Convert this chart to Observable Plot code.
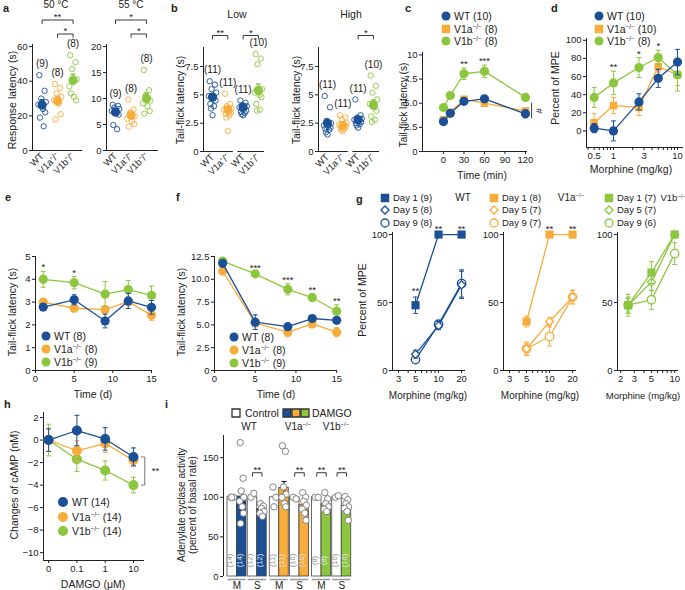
<!DOCTYPE html>
<html><head><meta charset="utf-8">
<script src="https://cdn.jsdelivr.net/npm/d3@7"></script>
<script src="https://cdn.jsdelivr.net/npm/@observablehq/plot@0.6"></script>
<style>
body{margin:0;background:#fff}
#root{position:relative;width:685px;height:590px;overflow:hidden;font-family:"Liberation Sans",Arial,sans-serif;color:#222;background:#fff}
.t{position:absolute;white-space:nowrap;line-height:1}
.t sup{font-size:0.6em;vertical-align:0;position:relative;top:-0.6em}
</style></head><body><div id="root"></div><script>
const FONT='"Liberation Sans", Arial, sans-serif';
const BLUE="#1b4f96", ORANGE="#f8ac3c", GREEN="#8cc63f", INK="#222";

// ---------- DATA ----------
// a
const aCats=["WT","V1a⁻/⁻","V1b⁻/⁻"];
const a50WT=[43.5,34.5,30,28,26.5,24,22,19,14];
const a50V1a=[38.5,36,33,31,29,27,21,18];
const a50V1b=[55,51,47,41,37,31,29,33];
const a50Mean=[26.3,28.6,40.6], a50Sem=[3.0,2.6,3.4];
const a55WT=[8.8,8.6,8.3,8.0,7.6,7.2,6.9,4.9,4.1];
const a55V1a=[9.8,7.9,7.3,6.6,6.1,5.6,5.1,4.6];
const a55V1b=[15.5,11.6,10.6,9.6,9.1,8.5,7.6,7.1];
const a55Mean=[7.4,6.8,10.0], a55Sem=[0.5,0.6,1.0];
const aN=["(9)","(8)","(8)"];
// b
const bCats=["WT","V1a⁻/⁻","WT","V1b⁻/⁻"];
const bLowWT1=[6.2,5.9,5.5,5.2,4.9,4.7,4.5,4.2,4.0,3.8,3.2];
const bLowV1a=[5.1,4.2,4.0,3.8,3.7,3.5,3.4,3.3,3.2,3.0,1.8];
const bLowWT2=[4.5,4.3,4.1,4.0,3.9,3.8,3.6,3.5,3.4,3.3,3.2];
const bLowV1b=[8.6,8.2,7.7,5.5,5.2,5.0,4.8,4.2,3.7,3.6];
const bLowMean=[4.8,3.7,3.9,5.4], bLowSem=[0.3,0.25,0.15,0.55];
const bHighWT1=[4.9,3.9,2.7,2.5,2.3,2.2,2.1,2.0,1.9,1.7,1.5];
const bHighV1a=[3.2,3.0,2.8,2.5,2.4,2.3,2.2,2.1,2.0,1.9,1.8];
const bHighWT2=[4.6,3.2,3.0,2.9,2.8,2.7,2.6,2.5,2.4,2.3,2.1];
const bHighV1b=[6.7,5.8,5.2,4.6,4.2,3.9,3.6,3.1,2.8,2.6];
const bHighMean=[2.5,2.3,2.8,4.1], bHighSem=[0.3,0.15,0.2,0.45];
const bN=["(11)","(11)","(11)","(10)"];
// c
const cTime=[0,10,30,60,120];
const cWT=[3.1,3.95,5.2,5.45,3.9], cWTe=[0.3,0.3,0.3,0.35,0.4];
const cV1a=[3.3,4.05,5.4,5.0,4.2], cV1ae=[0.25,0.25,0.3,0.3,0.3];
const cV1b=[4.55,5.8,8.05,8.3,5.6], cV1be=[0.2,0.25,0.6,0.65,0.35];
// d
const dDose=[0.5,1,2.5,5,10];
const dWT=[3,0,32,58,76], dWTe=[5,11,9,10,14];
const dV1a=[9,28,26,71,62], dV1ae=[10,9,9,6,12];
const dV1b=[37,53,70,81,62], dV1be=[11,13,11,8,18];
// e
const eDay=[1,5,9,12,15];
const eWT=[2.78,3.1,2.17,3.05,2.77], eWTe=[0.15,0.22,0.3,0.33,0.3];
const eV1a=[3.0,2.73,2.67,3.02,2.42], eV1ae=[0.1,0.15,0.15,0.15,0.22];
const eV1b=[4.0,3.85,3.35,3.55,3.3], eV1be=[0.35,0.27,0.55,0.4,0.4];
// f
const fDay=[1,5,9,12,15];
const fWT=[11.75,5.3,4.8,5.7,5.5], fWTe=[0.3,0.8,0.2,0.25,0.35];
const fV1a=[10.9,5.2,4.2,5.1,4.2], fV1ae=[0.2,0.3,0.5,0.4,0.5];
const fV1b=[12.0,10.6,8.9,8.0,6.5], fV1be=[0.2,0.2,0.6,0.4,0.7];
// g
const gDoseWT=[5,10,20], gDoseV1a=[5,10,20], gDoseV1b=[2.5,5,10];
const gWT1=[48,100,100], gWT1e=[6,0,0], gWT5=[12,33,63], gWT5e=[3,3,10], gWT9=[8,34,64], gWT9e=[2,3,10];
const gV1a1=[36,100,100], gV1a1e=[4,0,0], gV1a5=[16,36,54], gV1a5e=[4,3,5], gV1a9=[16,25,54], gV1a9e=[5,7,5];
const gV1b1=[48,72,100], gV1b1e=[8,8,0], gV1b5=[48,65,100], gV1b5e=[6,6,0], gV1b9=[48,52,86], gV1b9e=[5,7,8];
// h
const hCats=["0","0.1","1","10"];
const hWT=[0,0.85,0.1,-1.5], hWTe=[1.0,1.35,1.0,0.8];
const hV1a=[0,-0.95,-0.3,-1.8], hV1ae=[1.0,0.9,0.8,0.5];
const hV1b=[0,-1.7,-2.7,-4.0], hV1be=[1.4,1.1,0.85,0.7];
// i  (pair order: WT M, WT S, V1a M, V1a S, V1b M, V1b S)
const iRegions=["M","S","M","S","M","S"];
const iCtrlMean=[100,100,100,100,100,100];
const iDamgoMean=[101,85,112,90,91,89];
const iDamgoSem=[8,3,8,5,4,3];
const iCtrlPts=[[100,100,100],[100,105],[113,100,88],[100,98],[100,100],[100,102]];
const iDamgoPts=[[169,124,108,100,95,88,80,67],[92,89,86,82,80,76],[165,158,113,104,100,92,88],[106,100,95,90,85,80,71],[106,98,92,88,85,82],[101,97,92,88,86,82,71]];
const iCtrlN=["(14)","(12)","(11)","(10)","(8)","(10)"];
const iDamgoN=["(14)","(12)","(11)","(10)","(8)","(10)"];

// ---------- HELPERS ----------
const root=document.getElementById("root");
const SVGNS="http://www.w3.org/2000/svg";
const CAP={draw(ctx,size){const w=Math.sqrt(size)/2;ctx.moveTo(-w,0);ctx.lineTo(w,0);}};
const JIT=[-0.18,0.16,-0.06,0.24,-0.24,0.06,0.2,-0.14,0.1,-0.1,0.0];

function txt(html,x,y,o={}){
  const d=document.createElement("div");d.className="t";d.innerHTML=html;
  d.style.left=x+"px";d.style.top=y+"px";d.style.fontSize=(o.size||10.5)+"px";
  if(o.bold)d.style.fontWeight="bold";
  const tx=o.anchor==="start"?"0":o.anchor==="end"?"-100%":"-50%";
  d.style.transform=`translate(${tx},-50%)`+(o.rot?` rotate(${o.rot}deg)`:"");
  root.appendChild(d);
}
function marker(x,y,sym,fill,stroke,size=9){
  const s=document.createElementNS(SVGNS,"svg");
  s.setAttribute("width",16);s.setAttribute("height",16);
  s.style.cssText=`position:absolute;left:${x-8}px;top:${y-8}px;overflow:visible`;
  const p=document.createElementNS(SVGNS,"path");const r=size/2;let d;
  if(sym==="circle")d=`M${r},0A${r},${r} 0 1,1 ${-r},0A${r},${r} 0 1,1 ${r},0Z`;
  else if(sym==="square")d=`M${-r},${-r}H${r}V${r}H${-r}Z`;
  else d=`M0,${-r*1.15}L${r*1.15},0L0,${r*1.15}L${-r*1.15},0Z`;
  p.setAttribute("d",d);p.setAttribute("transform","translate(8,8)");
  p.setAttribute("fill",fill);p.setAttribute("stroke",stroke||"none");p.setAttribute("stroke-width",1.3);
  s.appendChild(p);root.appendChild(s);
}
function legend(x,y,dy,items,o={}){
  items.forEach((it,i)=>{const cy=y+i*dy;marker(x,cy,it.sym,it.fill,it.stroke,it.size||9);
    txt(it.label,x+(o.gap||8),cy,{anchor:"start",size:o.size||10.5});});
}
function mk(x0,x1,y0,y1,opts){
  const m={l:45,r:30,t:50,b:45};
  const p=Plot.plot({width:x1-x0+m.l+m.r,height:y1-y0+m.t+m.b,marginLeft:m.l,marginRight:m.r,marginTop:m.t,marginBottom:m.b,
    color:{type:"identity"},
    style:{fontFamily:FONT,fontSize:"9.5px",color:INK,background:"transparent",overflow:"visible"},...opts});
  p.style.position="absolute";p.style.left=(x0-m.l)+"px";p.style.top=(y0-m.t)+"px";p.style.maxWidth="none";
  root.appendChild(p);return p;
}
function errMarks(rows,color){
  const er=rows.filter(d=>d.e>0);
  return [Plot.ruleX(er,{x:"x",y1:"lo",y2:"hi",stroke:color,strokeWidth:1}),
    Plot.dot(er,{x:"x",y:"hi",symbol:CAP,r:2.8,stroke:color,fill:"none",strokeWidth:1}),
    Plot.dot(er,{x:"x",y:"lo",symbol:CAP,r:2.8,stroke:color,fill:"none",strokeWidth:1})];
}
function scatter(c){
  const pts=c.groups.flatMap((g,i)=>g.map((v,k)=>({x:i+JIT[k%JIT.length],y:v,c:c.colors[i]})));
  const mn=c.means.map((m,i)=>({x:i,y:m,e:c.sems[i],lo:m-c.sems[i],hi:m+c.sems[i],c:c.colors[i],n:c.ns[i],top:d3.max(c.groups[i])}));
  const ppu=(c.y1-c.y0)/(c.ydom[1]-c.ydom[0]);
  const br=[],st=[];
  c.sig.forEach((s,j)=>{const yb=c.ydom[1]+(c.base+(s.level-1)*14)/ppu,yd=yb-3.5/ppu;
    [[s.a,yd],[s.a,yb],[s.b,yb],[s.b,yd]].forEach(([x,y])=>br.push({x,y,j}));
    st.push({x:(s.a+s.b)/2,y:yb,label:s.label});});
  const marks=[
    ...c.segs.map(([a,b])=>Plot.ruleY([c.ydom[0]],{x1:a,x2:b,stroke:INK})),
    Plot.ruleX([c.xdom[0]],{stroke:INK}),
    Plot.axisY({ticks:c.yticks,tickFormat:c.yfmt,tickSize:3,tickPadding:2,label:null}),
    Plot.axisX({ticks:c.cats.map((_,i)=>i),tickFormat:i=>c.cats[i],tickSize:0,tickRotate:-45,tickPadding:4,label:null}),
    Plot.dot(pts,{x:"x",y:"y",stroke:"c",r:2.7,strokeWidth:0.9,fill:"none"}),
    Plot.ruleX(mn,{x:"x",y1:"lo",y2:"hi",stroke:"c",strokeWidth:1}),
    Plot.dot(mn,{x:"x",y:"hi",symbol:CAP,r:2.8,stroke:"c",fill:"none"}),
    Plot.dot(mn,{x:"x",y:"y",fill:"c",r:4.6}),
    Plot.text(mn,{x:"x",y:"top",text:"n",dy:-11,fontSize:10,fill:INK}),
    Plot.line(br,{x:"x",y:"y",z:"j",stroke:INK,strokeWidth:0.9}),
    Plot.text(st,{x:"x",y:"y",text:"label",lineAnchor:"bottom",fontSize:9.5,fill:INK})
  ];
  mk(c.x0,c.x1,c.y0,c.y1,{x:{domain:c.xdom},y:{domain:c.ydom},marks});
}
function lines(c){
  const marks=[Plot.ruleX([c.xdom[0]],{stroke:INK}),Plot.ruleY([c.ydom[0]],{stroke:INK}),
    Plot.axisY({ticks:c.yticks,tickFormat:c.yfmt,tickSize:3,tickPadding:2,label:null}),
    Plot.axisX({ticks:c.xticks,tickFormat:c.xfmt,tickSize:3,tickPadding:2,label:null})];
  c.series.forEach(s=>{
    const rows=s.vals.map((v,i)=>({x:c.xs[i],y:v,e:s.errs[i],lo:v-s.errs[i],hi:v+s.errs[i]}));
    marks.push(...errMarks(rows,s.color),
      Plot.line(rows,{x:"x",y:"y",stroke:s.color,strokeWidth:1.3}),
      Plot.dot(rows,{x:"x",y:"y",symbol:s.sym||"circle",r:s.r||4.6,fill:s.fill||s.color,stroke:s.stroke||"none",strokeWidth:1.3}));
  });
  const st=(c.stars||[]).map(s=>({x:c.xs[s.i],y:d3.max(c.series,se=>se.vals[s.i]+se.errs[s.i]),label:s.label}));
  marks.push(Plot.text(st,{x:"x",y:"y",text:"label",lineAnchor:"bottom",dy:c.sdy??-1,fontSize:9.5,fill:INK}));
  if(c.extra)marks.push(...c.extra);
  mk(c.x0,c.x1,c.y0,c.y1,{x:{type:c.xtype||"linear",domain:c.xdom},y:{domain:c.ydom},marks});
}
const f1=d=>d===0?"0":d.toFixed(1);
const V1A="V1a<sup>−/−</sup>", V1B="V1b<sup>−/−</sup>";

// ---------- PANEL a ----------
txt("a",3,8,{bold:true,size:11,anchor:"start"});
txt("50 °C",56,5,{size:10});txt("55 °C",131,5,{size:10});
txt("Response latency (s)",12,100,{rot:-90});
scatter({x0:32,x1:82,y0:44,y1:150,xdom:[-0.62,2.61],ydom:[0,61.2],yticks:[0,20,40,60],yfmt:d=>String(d),
  cats:aCats,colors:[BLUE,ORANGE,GREEN],groups:[a50WT,a50V1a,a50V1b],means:a50Mean,sems:a50Sem,ns:aN,
  sig:[{a:1,b:2,level:1,label:"*"},{a:0,b:2,level:2,label:"**"}],base:10.5,segs:[[-0.62,2.61]]});
scatter({x0:106,x1:158,y0:44,y1:150,xdom:[-0.58,2.77],ydom:[0,20.4],yticks:[0,5,10,15,20],yfmt:d=>String(d),
  cats:aCats,colors:[BLUE,ORANGE,GREEN],groups:[a55WT,a55V1a,a55V1b],means:a55Mean,sems:a55Sem,ns:aN,
  sig:[{a:1,b:2,level:1,label:"*"},{a:0,b:2,level:2,label:"*"}],base:10.5,segs:[[-0.58,2.77]]});

// ---------- PANEL b ----------
txt("b",171,8,{bold:true,size:11,anchor:"start"});
txt("Low",237,14);txt("High",351,14);
txt("Tail-flick latency (s)",180,100,{rot:-90});
txt("Tail-flick latency (s)",296,100,{rot:-90});
const bCommon={y0:47,y1:151,xdom:[-0.59,3.4],ydom:[0,9.18],yticks:[0,2.5,5,7.5],yfmt:d=>String(d),
  cats:bCats,colors:[BLUE,ORANGE,BLUE,GREEN],ns:bN,base:12,segs:[[-0.59,1.36],[1.66,3.4]]};
scatter({...bCommon,x0:203,x1:264,groups:[bLowWT1,bLowV1a,bLowWT2,bLowV1b],means:bLowMean,sems:bLowSem,
  sig:[{a:0,b:1,level:1,label:"**"},{a:2,b:3,level:1,label:"*"}]});
scatter({...bCommon,x0:318,x1:379,groups:[bHighWT1,bHighV1a,bHighWT2,bHighV1b],means:bHighMean,sems:bHighSem,
  sig:[{a:2,b:3,level:1,label:"*"}]});

// ---------- PANEL c ----------
txt("c",405,8,{bold:true,size:11,anchor:"start"});
legend(446,16,12.5,[{sym:"circle",fill:BLUE,label:"WT (10)"},{sym:"square",fill:ORANGE,size:8.5,label:V1A+" (8)"},{sym:"circle",fill:GREEN,label:V1B+" (8)"}]);
txt("Tail-flick latency (s)",404,105,{rot:-90,size:10});
txt("Time (min)",482,175);
lines({x0:422,x1:527,y0:52,y1:151,xdom:[-30.7,123],ydom:[0,10.25],xticks:[0,30,60,90,120],xfmt:d=>String(d),
  yticks:[0,2.5,5,7.5,10],yfmt:d=>d===0?"0":d===10?"10":d.toFixed(1),xs:cTime,
  series:[{vals:cV1a,errs:cV1ae,color:ORANGE,sym:"square",r:4.3},{vals:cV1b,errs:cV1be,color:GREEN},{vals:cWT,errs:cWTe,color:BLUE}],
  stars:[{i:2,label:"**"},{i:3,label:"***"}],
  extra:[Plot.ruleX([129],{y1:3.4,y2:5.0,stroke:INK,strokeWidth:0.9}),Plot.text(["#"],{x:129,y:4.2,dx:7,rotate:90,fontSize:9.5,fill:INK})]});

// ---------- PANEL d ----------
txt("d",551,8,{bold:true,size:11,anchor:"start"});
legend(599,16,12.5,[{sym:"circle",fill:BLUE,label:"WT (10)"},{sym:"square",fill:ORANGE,size:8.5,label:V1A+" (10)"},{sym:"circle",fill:GREEN,label:V1B+" (8)"}]);
txt("Percent of MPE",555,88,{rot:-90});
txt("Morphine (mg/kg)",631,169);
lines({x0:586,x1:683,y0:38,y1:147,xtype:"log",xdom:[0.379,12.4],ydom:[-18.3,102],
  xticks:[0.4,0.5,0.6,0.7,0.8,0.9,1,2,3,4,5,6,7,8,9,10],xfmt:d=>[0.5,1,3,10].includes(d)?String(d):"",
  yticks:[0,20,40,60,80,100],yfmt:d=>String(d),xs:dDose,
  series:[{vals:dV1a,errs:dV1ae,color:ORANGE,sym:"square",r:4.3},{vals:dV1b,errs:dV1be,color:GREEN},{vals:dWT,errs:dWTe,color:BLUE}],
  stars:[{i:1,label:"**"},{i:2,label:"*"},{i:3,label:"*"}]});

// ---------- PANEL e ----------
txt("e",5,197,{bold:true,size:11,anchor:"start"});
txt("Tail-flick latency (s)",12,312,{rot:-90});
txt("Time (d)",93,394);
lines({x0:35,x1:152,y0:256,y1:370,xdom:[0,15.13],ydom:[0,5],xticks:[0,5,10,15],xfmt:d=>String(d),
  yticks:[0,1,2,3,4,5],yfmt:d=>String(d),xs:eDay,
  series:[{vals:eV1a,errs:eV1ae,color:ORANGE},{vals:eV1b,errs:eV1be,color:GREEN},{vals:eWT,errs:eWTe,color:BLUE}],
  stars:[{i:0,label:"*"},{i:1,label:"*"}]});
legend(46,336,13,[{sym:"circle",fill:BLUE,label:"WT (8)"},{sym:"circle",fill:ORANGE,label:V1A+" (8)"},{sym:"circle",fill:GREEN,label:V1B+" (9)"}]);

// ---------- PANEL f ----------
txt("f",176,197,{bold:true,size:11,anchor:"start"});
txt("Tail-flick latency (s)",181,312,{rot:-90});
txt("Time (d)",276,394);
lines({x0:214,x1:337,y0:256,y1:370,xdom:[0,15.1],ydom:[0,12.5],xticks:[0,5,10,15],xfmt:d=>String(d),
  yticks:[0,2.5,5,7.5,10,12.5],yfmt:f1,xs:fDay,
  series:[{vals:fV1a,errs:fV1ae,color:ORANGE},{vals:fV1b,errs:fV1be,color:GREEN},{vals:fWT,errs:fWTe,color:BLUE}],
  stars:[{i:1,label:"***"},{i:2,label:"***"},{i:3,label:"**"},{i:4,label:"**"}]});
legend(234,337,13,[{sym:"circle",fill:BLUE,label:"WT (8)"},{sym:"circle",fill:ORANGE,label:V1A+" (8)"},{sym:"circle",fill:GREEN,label:V1B+" (9)"}]);

// ---------- PANEL g ----------
txt("g",356,199,{bold:true,size:11,anchor:"start"});
txt("Percent of MPE",362,300,{rot:-90});
function gPanel(x0,x1,xdom,ticks,labels,doses,col,d1,d1e,d5,d5e,d9,d9e,stars){
  lines({x0,x1,y0:232,y1:370,xtype:"log",xdom,ydom:[0,101.5],xticks:ticks,xfmt:d=>labels.includes(d)?String(d):"",
    yticks:[0,50,100],yfmt:d=>String(d),xs:doses,sdy:-3,
    series:[{vals:d9,errs:d9e,color:col,sym:"circle",fill:"white",stroke:col,r:4.2},
            {vals:d5,errs:d5e,color:col,sym:"diamond2",fill:"white",stroke:col,r:3.6},
            {vals:d1,errs:d1e,color:col,sym:"square",r:4.6}],stars});
}
gPanel(392,465,[2.5,22.5],[3,4,5,6,7,8,9,10,20],[3,5,10,20],gDoseWT,BLUE,gWT1,gWT1e,gWT5,gWT5e,gWT9,gWT9e,
  [{i:0,label:"**"},{i:1,label:"**"},{i:2,label:"**"}]);
gPanel(503,576,[2.5,22.5],[3,4,5,6,7,8,9,10,20],[3,5,10,20],gDoseV1a,ORANGE,gV1a1,gV1a1e,gV1a5,gV1a5e,gV1a9,gV1a9e,
  [{i:1,label:"**"},{i:2,label:"**"}]);
gPanel(617,678,[1.82,11.2],[2,3,4,5,6,7,8,9,10],[2,3,5,10],gDoseV1b,GREEN,gV1b1,gV1b1e,gV1b5,gV1b5e,gV1b9,gV1b9e,[]);
legend(385,198,12.3,[{sym:"square",fill:BLUE,size:8.5,label:"Day 1 (9)"},{sym:"diamond",fill:"white",stroke:BLUE,size:7,label:"Day 5 (8)"},{sym:"circle",fill:"white",stroke:BLUE,size:8,label:"Day 9 (8)"}],{size:9.5});
legend(494,198,12.3,[{sym:"square",fill:ORANGE,size:8.5,label:"Day 1 (8)"},{sym:"diamond",fill:"white",stroke:ORANGE,size:7,label:"Day 5 (7)"},{sym:"circle",fill:"white",stroke:ORANGE,size:8,label:"Day 9 (7)"}],{size:9.5});
legend(609,198,12.3,[{sym:"square",fill:GREEN,size:8.5,label:"Day 1 (7)"},{sym:"diamond",fill:"white",stroke:GREEN,size:7,label:"Day 5 (7)"},{sym:"circle",fill:"white",stroke:GREEN,size:8,label:"Day 9 (6)"}],{size:9.5});
txt("WT",463,198,{size:10});txt(V1A,571,198,{size:10});txt(V1B,673,198,{size:9.5});
txt("Morphine (mg/kg)",428,396,{size:10});txt("Morphine (mg/kg)",540,396,{size:10});txt("Morphine (mg/kg)",643,396,{size:9.5});

// ---------- PANEL h ----------
txt("h",4,404,{bold:true,size:11,anchor:"start"});
txt("Changes of cAMP (nM)",14,485,{rot:-90});
txt("DAMGO (μM)",93,584);
lines({x0:43,x1:144,y0:412,y1:560,xdom:[-0.18,3.39],ydom:[-10.7,2.45],xticks:[0,1,2,3],xfmt:i=>hCats[i],
  yticks:[-10,-8,-6,-4,-2,0,2],yfmt:d3.format("d"),xs:[0,1,2,3],
  series:[{vals:hV1b,errs:hV1be,color:GREEN,r:5},{vals:hV1a,errs:hV1ae,color:ORANGE,r:5},{vals:hWT,errs:hWTe,color:BLUE,r:5}],
  extra:[Plot.line([{x:3.28,y:hWT[3]},{x:3.4,y:hWT[3]},{x:3.4,y:hV1b[3]},{x:3.28,y:hV1b[3]}],{x:"x",y:"y",stroke:"#666",strokeWidth:0.9}),
    Plot.text(["**"],{x:3.4,y:(hWT[3]+hV1b[3])/2,dx:7,textAnchor:"start",fontSize:9.5,fill:INK})]});
legend(63,502,14.5,[{sym:"circle",fill:BLUE,size:10,label:"WT (14)"},{sym:"circle",fill:ORANGE,size:10,label:V1A+" (14)"},{sym:"circle",fill:GREEN,size:10,label:V1B+" (14)"}],{gap:9});

// ---------- PANEL i ----------
txt("i",165,404,{bold:true,size:11,anchor:"start"});
txt("Adenylate cyclase activity",182,505,{rot:-90,size:10});
txt("(percent of basal rate)",193,505,{rot:-90,size:10});
marker(236,413,"square","white","#333",8);txt("Control",245,413,{anchor:"start",size:10.5});
marker(287,413,"square",BLUE,"#333",8);marker(296,413,"square",ORANGE,"#333",8);marker(305,413,"square",GREEN,"#333",8);
txt("DAMGO",312,413,{anchor:"start",size:10.5});
txt("WT",249,427,{size:10});txt(V1A,298,427,{size:10});txt(V1B,336,427,{size:10});
(function(){
  const gcol=[BLUE,BLUE,ORANGE,ORANGE,GREEN,GREEN];
  const pos=(k,t)=>Math.floor(k/2)*4.45+(k%2)*2.13+t;
  const bars=[],pts=[],labs=[],errs=[],pairs=[],br=[],st=[];
  iCtrlMean.forEach((m,k)=>{
    bars.push({x1:pos(k,0),x2:pos(k,0)+1,y:m,fill:"white"});
    bars.push({x1:pos(k,1),x2:pos(k,1)+1,y:iDamgoMean[k],fill:gcol[k]});
    iCtrlPts[k].forEach((v,j)=>pts.push({x:pos(k,0)+0.5+JIT[j]*0.9,y:v}));
    iDamgoPts[k].forEach((v,j)=>pts.push({x:pos(k,1)+0.5+JIT[j]*0.9,y:v}));
    labs.push({x:pos(k,0)+0.5,t:iCtrlN[k],c:"#8a8a8a"});labs.push({x:pos(k,1)+0.5,t:iDamgoN[k],c:"#e6e6e6"});
    errs.push({x:pos(k,1)+0.5,y:iDamgoMean[k],e:iDamgoSem[k],lo:iDamgoMean[k]-iDamgoSem[k],hi:iDamgoMean[k]+iDamgoSem[k]});
    pairs.push({x1:pos(k,0)+0.05,x2:pos(k,1)+0.95});
  });
  const sigs=[1,3,4,5], yb=131, yd=126.6;
  sigs.forEach((k,j)=>{const a=pos(k,0)+0.5,b=pos(k,1)+0.5;
    [[a,yd],[a,yb],[b,yb],[b,yd]].forEach(([x,y])=>br.push({x,y,j}));st.push({x:(a+b)/2,y:yb,label:"**"});});
  const marks=[
    Plot.ruleX([-0.42],{stroke:INK}),
    Plot.axisY({ticks:[0,50,100,150],tickSize:3,tickPadding:2,label:null}),
    Plot.axisX({ticks:iCtrlMean.map((_,k)=>pos(k,1)),tickFormat:(d,i)=>iRegions[i],tickSize:0,tickPadding:5,label:null,fontSize:10}),
    Plot.rect(bars,{x1:"x1",x2:"x2",y1:()=>0,y2:"y",fill:"fill",stroke:"#444",strokeWidth:0.8}),
    Plot.ruleY(pairs,{x1:"x1",x2:"x2",y:()=>0,dy:3,stroke:"#999",strokeWidth:1.5}),
    Plot.text(labs,{x:"x",text:"t",fill:"c",frameAnchor:"bottom",dy:-16,rotate:-90,fontSize:7.5}),
    ...errMarks(errs,"#111"),
    Plot.dot(pts,{x:"x",y:"y",r:3.2,fill:"white",stroke:"#777",strokeWidth:0.9}),
    Plot.line(br,{x:"x",y:"y",z:"j",stroke:INK,strokeWidth:0.9}),
    Plot.text(st,{x:"x",y:"y",text:"label",lineAnchor:"bottom",fontSize:9.5,fill:INK})
  ];
  mk(223,352,435,576,{x:{domain:[-0.42,13.16]},y:{domain:[0,178]},marks});
})();
</script></body></html>
